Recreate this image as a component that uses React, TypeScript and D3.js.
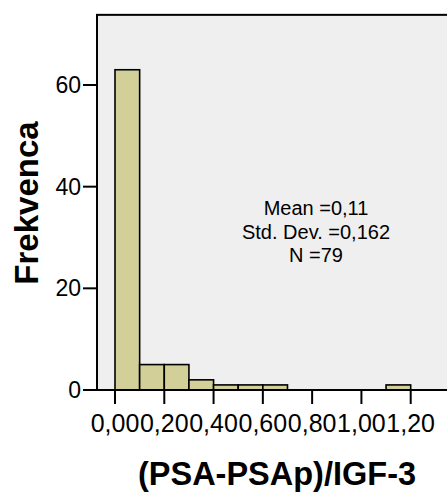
import React from "react";
import * as d3 from "d3";

// Histogram of (PSA-PSAp)/IGF-3, bin width 0,1
const binStarts = [0, 0.1, 0.2, 0.3, 0.4, 0.5, 0.6, 0.7, 0.8, 0.9, 1.0, 1.1];
const binWidth = 0.1;
const counts = [63, 5, 5, 2, 1, 1, 1, 0, 0, 0, 0, 1];
const xTicks = [0, 0.2, 0.4, 0.6, 0.8, 1.0, 1.2];
const yTicks = [0, 20, 40, 60];
const statsLines = ["Mean =0,11", "Std. Dev. =0,162", "N =79"];
const xTitle = "(PSA-PSAp)/IGF-3";
const yTitle = "Frekvenca";

const W = 447;
const H = 493;
const FONT = "'Liberation Sans', Arial, Helvetica, sans-serif";

export default function App() {
  const x = d3.scaleLinear().domain([0, 1.2]).range([115, 410.7]);
  const y = d3.scaleLinear().domain([0, 60]).range([390, 85]);

  const left = x(-0.073);
  const top = y(73.8);
  const bottom = y(0);
  const right = W + 20;

  const fmt = (v: number) => v.toFixed(2).replace(".", ",");
  const tickLen = 14;

  return (
    <svg
      width={W}
      height={H}
      style={{ position: "absolute", left: 0, top: 0, background: "#fff" }}
      fontFamily={FONT}
    >
      {/* plot area */}
      <rect
        x={left}
        y={top}
        width={right - left}
        height={bottom - top}
        fill="#EFEFEF"
        stroke="#000"
        strokeWidth={2}
      />

      {/* bars */}
      {binStarts.map((b, i) =>
        counts[i] > 0 ? (
          <rect
            key={i}
            x={x(b)}
            y={y(counts[i])}
            width={x(b + binWidth) - x(b)}
            height={y(0) - y(counts[i])}
            fill="#D3CF99"
            stroke="#000"
            strokeWidth={1.6}
          />
        ) : null
      )}

      {/* x axis line */}
      <line x1={left - tickLen} x2={right} y1={bottom} y2={bottom} stroke="#000" strokeWidth={2} />

      {/* y ticks */}
      {yTicks.map((t) => (
        <g key={t}>
          <line x1={left - tickLen} x2={left} y1={y(t)} y2={y(t)} stroke="#000" strokeWidth={2} />
          <text
            x={left - tickLen - 2}
            y={y(t) + 8}
            textAnchor="end"
            fontSize={23}
            fill="#000"
          >
            {t}
          </text>
        </g>
      ))}

      {/* x ticks */}
      {xTicks.map((t) => (
        <g key={t}>
          <line x1={x(t)} x2={x(t)} y1={bottom} y2={bottom + tickLen} stroke="#000" strokeWidth={2} />
          <text x={x(t)} y={432} textAnchor="middle" fontSize={25} fill="#000">
            {fmt(t)}
          </text>
        </g>
      ))}

      {/* summary statistics */}
      {statsLines.map((s, i) => (
        <text key={s} x={316} y={215 + i * 23.5} textAnchor="middle" fontSize={20} fill="#000">
          {s}
        </text>
      ))}

      {/* axis titles */}
      <text
        x={277}
        y={485}
        textAnchor="middle"
        fontSize={32.5}
        fontWeight="bold"
        fill="#000"
      >
        {xTitle}
      </text>
      <text
        transform={`translate(38, 203) rotate(-90)`}
        textAnchor="middle"
        fontSize={33}
        fontWeight="bold"
        fill="#000"
      >
        {yTitle}
      </text>
    </svg>
  );
}
